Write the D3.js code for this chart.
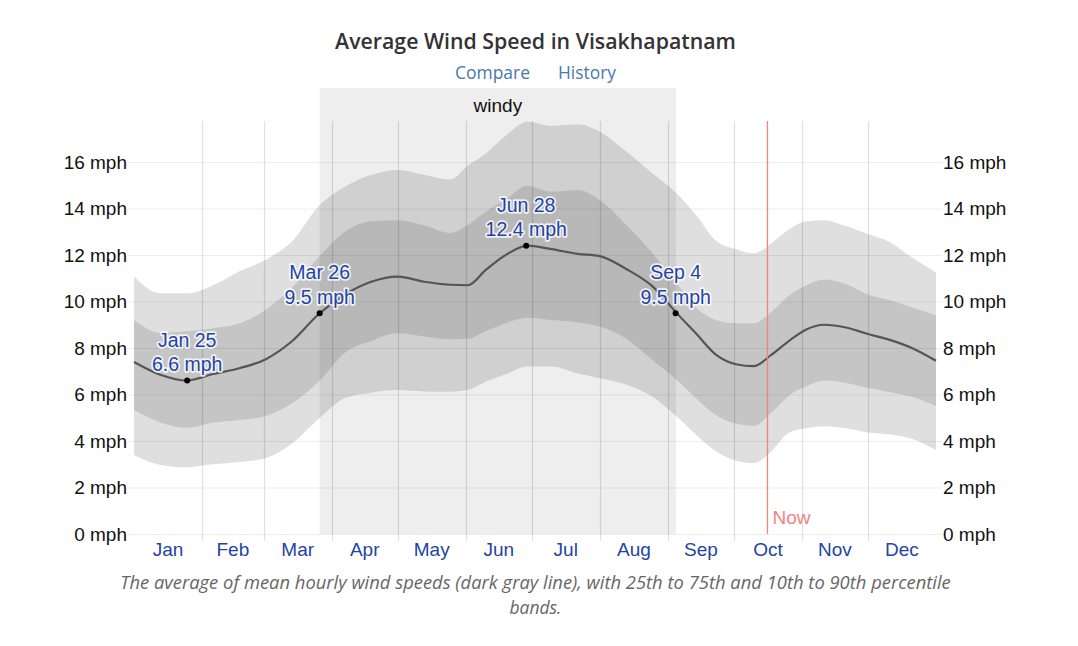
<!DOCTYPE html>
<html><head><meta charset="utf-8">
<script src="https://cdn.jsdelivr.net/npm/d3@7"></script>
<style>
html,body{margin:0;padding:0;background:#fff;}
svg{display:block;}
</style></head>
<body>
<svg id="chart" width="1078" height="646"></svg>
<script>
// ---- data (day of year, Jan 1 = 0) ----
const days = [0,12,24,36,48,60,72,84,96,108,120,132,144,152,160,170,179,190,202,212,224,236,247,256,265,274,282,290,298,306,314,324,334,344,354,365];
const meanSpeed = [7.4,6.85,6.6,6.88,7.13,7.52,8.3,9.45,10.3,10.85,11.07,10.85,10.72,10.7,11.35,12.05,12.4,12.25,12.05,11.95,11.4,10.65,9.5,8.6,7.7,7.3,7.22,7.7,8.3,8.8,9.0,8.88,8.6,8.35,8.0,7.45];
const p90 = [11.07,10.35,10.35,10.7,11.3,11.8,12.6,14.1,14.94,15.45,15.66,15.45,15.25,15.85,16.35,17.2,17.73,17.55,17.62,17.3,16.45,15.51,14.65,13.7,12.6,12.25,12.07,12.5,13.1,13.45,13.5,13.25,12.9,12.55,11.9,11.25];
const p75 = [9.2,8.65,8.72,8.85,9.05,9.65,10.6,11.9,13.0,13.45,13.5,13.28,12.95,13.3,13.85,14.45,14.98,14.72,14.8,14.37,13.3,12.07,10.78,9.72,9.2,9.06,9.06,9.55,10.25,10.7,10.95,10.75,10.3,10.05,9.75,9.4];
const p25 = [5.33,4.8,4.57,4.78,4.9,5.08,5.62,6.55,7.8,8.3,8.63,8.5,8.38,8.4,8.72,9.1,9.3,9.2,9.1,8.92,8.4,7.48,6.62,5.82,5.1,4.75,4.65,5.2,5.95,6.35,6.6,6.5,6.28,6.1,5.9,5.5];
const p10 = [3.4,2.97,2.87,3.0,3.1,3.26,3.9,4.95,5.85,6.08,6.19,6.13,6.12,6.2,6.55,6.9,7.2,7.2,6.9,6.7,6.43,5.9,5.05,4.25,3.55,3.15,3.05,3.55,4.35,4.55,4.62,4.55,4.37,4.28,4.1,3.61];

const months = ["Jan","Feb","Mar","Apr","May","Jun","Jul","Aug","Sep","Oct","Nov","Dec"];
const monthStarts = [0,31,59,90,120,151,181,212,243,273,304,334,365];
const yTicks = [0,2,4,6,8,10,12,14,16];

const annoLabels = ["Jan 25","Mar 26","Jun 28","Sep 4"];
const annoDays = [24.2,84.5,178.5,246.5];
const annoValues = [6.6,9.5,12.4,9.5];

const windyStart = 84.5, windyEnd = 246.7;
const nowDay = 288.3;

// ---- layout ----
const svg = d3.select("#chart");
const x = d3.scaleLinear().domain([0,365]).range([134,936]);
const y = d3.scaleLinear().domain([0,16]).range([534,162]);
const plotTop = 121;
const ARIAL = "Liberation Sans, Arial, sans-serif";
const SANS = "Open Sans, sans-serif";

function fit(sel, target){
  const n = sel.node();
  const w = n.getComputedTextLength();
  const fs = parseFloat(sel.attr("font-size"));
  if (w > 0) sel.attr("font-size", fs*target/w);
  return sel;
}

// windy band
svg.append("rect")
  .attr("x", x(windyStart)).attr("y", 88)
  .attr("width", x(windyEnd)-x(windyStart)).attr("height", y(0)-88)
  .attr("fill", "#eeeeee");
svg.append("text").attr("x",(x(windyStart)+x(windyEnd))/2).attr("y",112)
  .attr("text-anchor","middle").attr("font-family",ARIAL)
  .attr("font-size",19).attr("fill","#111").text("windy");

// horizontal grid
svg.append("g").selectAll("line").data(yTicks).join("line")
  .attr("x1",128).attr("x2",942)
  .attr("y1",d=>y(d)+0.5).attr("y2",d=>y(d)+0.5)
  .attr("stroke","rgba(0,0,0,0.07)").attr("stroke-width",1.2);

const series = days.map((d,i)=>({d, m:meanSpeed[i], a:p10[i], b:p25[i], c:p75[i], e:p90[i]}));
const curve = d3.curveMonotoneX;

svg.append("path").datum(series)
  .attr("d", d3.area().x(s=>x(s.d)).y0(s=>y(s.a)).y1(s=>y(s.e)).curve(curve))
  .attr("fill","rgba(0,0,0,0.125)");
svg.append("path").datum(series)
  .attr("d", d3.area().x(s=>x(s.d)).y0(s=>y(s.b)).y1(s=>y(s.c)).curve(curve))
  .attr("fill","rgba(0,0,0,0.115)");

// vertical month grid
svg.append("g").selectAll("line").data(monthStarts.slice(1,12)).join("line")
  .attr("x1",d=>Math.round(x(d))+0.5).attr("x2",d=>Math.round(x(d))+0.5)
  .attr("y1",plotTop).attr("y2",541)
  .attr("stroke","rgba(0,0,0,0.12)").attr("stroke-width",1.2);

// mean line
svg.append("path").datum(series)
  .attr("d", d3.line().x(s=>x(s.d)).y(s=>y(s.m)).curve(curve))
  .attr("fill","none").attr("stroke","#555").attr("stroke-width",2.2);

// now line
svg.append("line").attr("x1",x(nowDay)).attr("x2",x(nowDay))
  .attr("y1",plotTop).attr("y2",y(0))
  .attr("stroke","#f08484").attr("stroke-width",1.3);
svg.append("text").attr("x",x(nowDay)+5).attr("y",524)
  .attr("font-family",ARIAL).attr("font-size",19)
  .attr("fill","#f08484").text("Now");

// y axis labels
const yl = svg.append("g").attr("font-family",ARIAL).attr("font-size",19).attr("fill","#111");
yl.selectAll("text.l").data(yTicks).join("text").attr("class","l")
  .attr("x",127).attr("y",d=>y(d)+6.5).attr("text-anchor","end").text(d=>d+" mph");
yl.selectAll("text.r").data(yTicks).join("text").attr("class","r")
  .attr("x",943).attr("y",d=>y(d)+6.5).attr("text-anchor","start").text(d=>d+" mph");

// month labels
svg.append("g").selectAll("text").data(months).join("text")
  .attr("x",(d,i)=>x((monthStarts[i]+monthStarts[i+1])/2))
  .attr("y",556).attr("text-anchor","middle")
  .attr("font-family",ARIAL).attr("font-size",19)
  .attr("fill","#1f44a6").text(d=>d);

// annotations
const an = svg.append("g");
annoLabels.forEach((lab,i)=>{
  const px = x(annoDays[i]), py = y(annoValues[i]);
  an.append("circle").attr("cx",px).attr("cy",py).attr("r",3).attr("fill","#000");
  [lab, annoValues[i].toFixed(1)+" mph"].forEach((t,j)=>{
    const ty = py - 34 + j*24.5;
    an.append("text").attr("x",px).attr("y",ty).attr("text-anchor","middle")
      .attr("font-family",ARIAL).attr("font-size",19.5)
      .attr("stroke","rgba(255,255,255,0.8)").attr("stroke-width",3.5).attr("stroke-linejoin","round")
      .attr("fill","none").text(t);
    an.append("text").attr("x",px).attr("y",ty).attr("text-anchor","middle")
      .attr("font-family",ARIAL).attr("font-size",19.5)
      .attr("fill","#1f44a6").text(t);
  });
});

// title
fit(svg.append("text").attr("x",535.5).attr("y",49).attr("text-anchor","middle")
  .attr("font-family",SANS).attr("font-weight",600).attr("font-size",20.5)
  .attr("fill","#333").text("Average Wind Speed in Visakhapatnam"), 401);
fit(svg.append("text").attr("x",492.5).attr("y",79).attr("text-anchor","middle")
  .attr("font-family",SANS).attr("font-size",17)
  .attr("fill","#4a78b0").text("Compare"), 75);
fit(svg.append("text").attr("x",587).attr("y",79).attr("text-anchor","middle")
  .attr("font-family",SANS).attr("font-size",17)
  .attr("fill","#4a78b0").text("History"), 58);

// caption
const cap = svg.append("g").attr("font-family",SANS).attr("font-style","italic")
  .attr("fill","#666").attr("text-anchor","middle");
fit(cap.append("text").attr("x",535.5).attr("y",589).attr("font-size",16.5)
  .text("The average of mean hourly wind speeds (dark gray line), with 25th to 75th and 10th to 90th percentile"), 831);
fit(cap.append("text").attr("x",535.5).attr("y",614).attr("font-size",16.5).text("bands."), 52);
</script>
</body></html>
